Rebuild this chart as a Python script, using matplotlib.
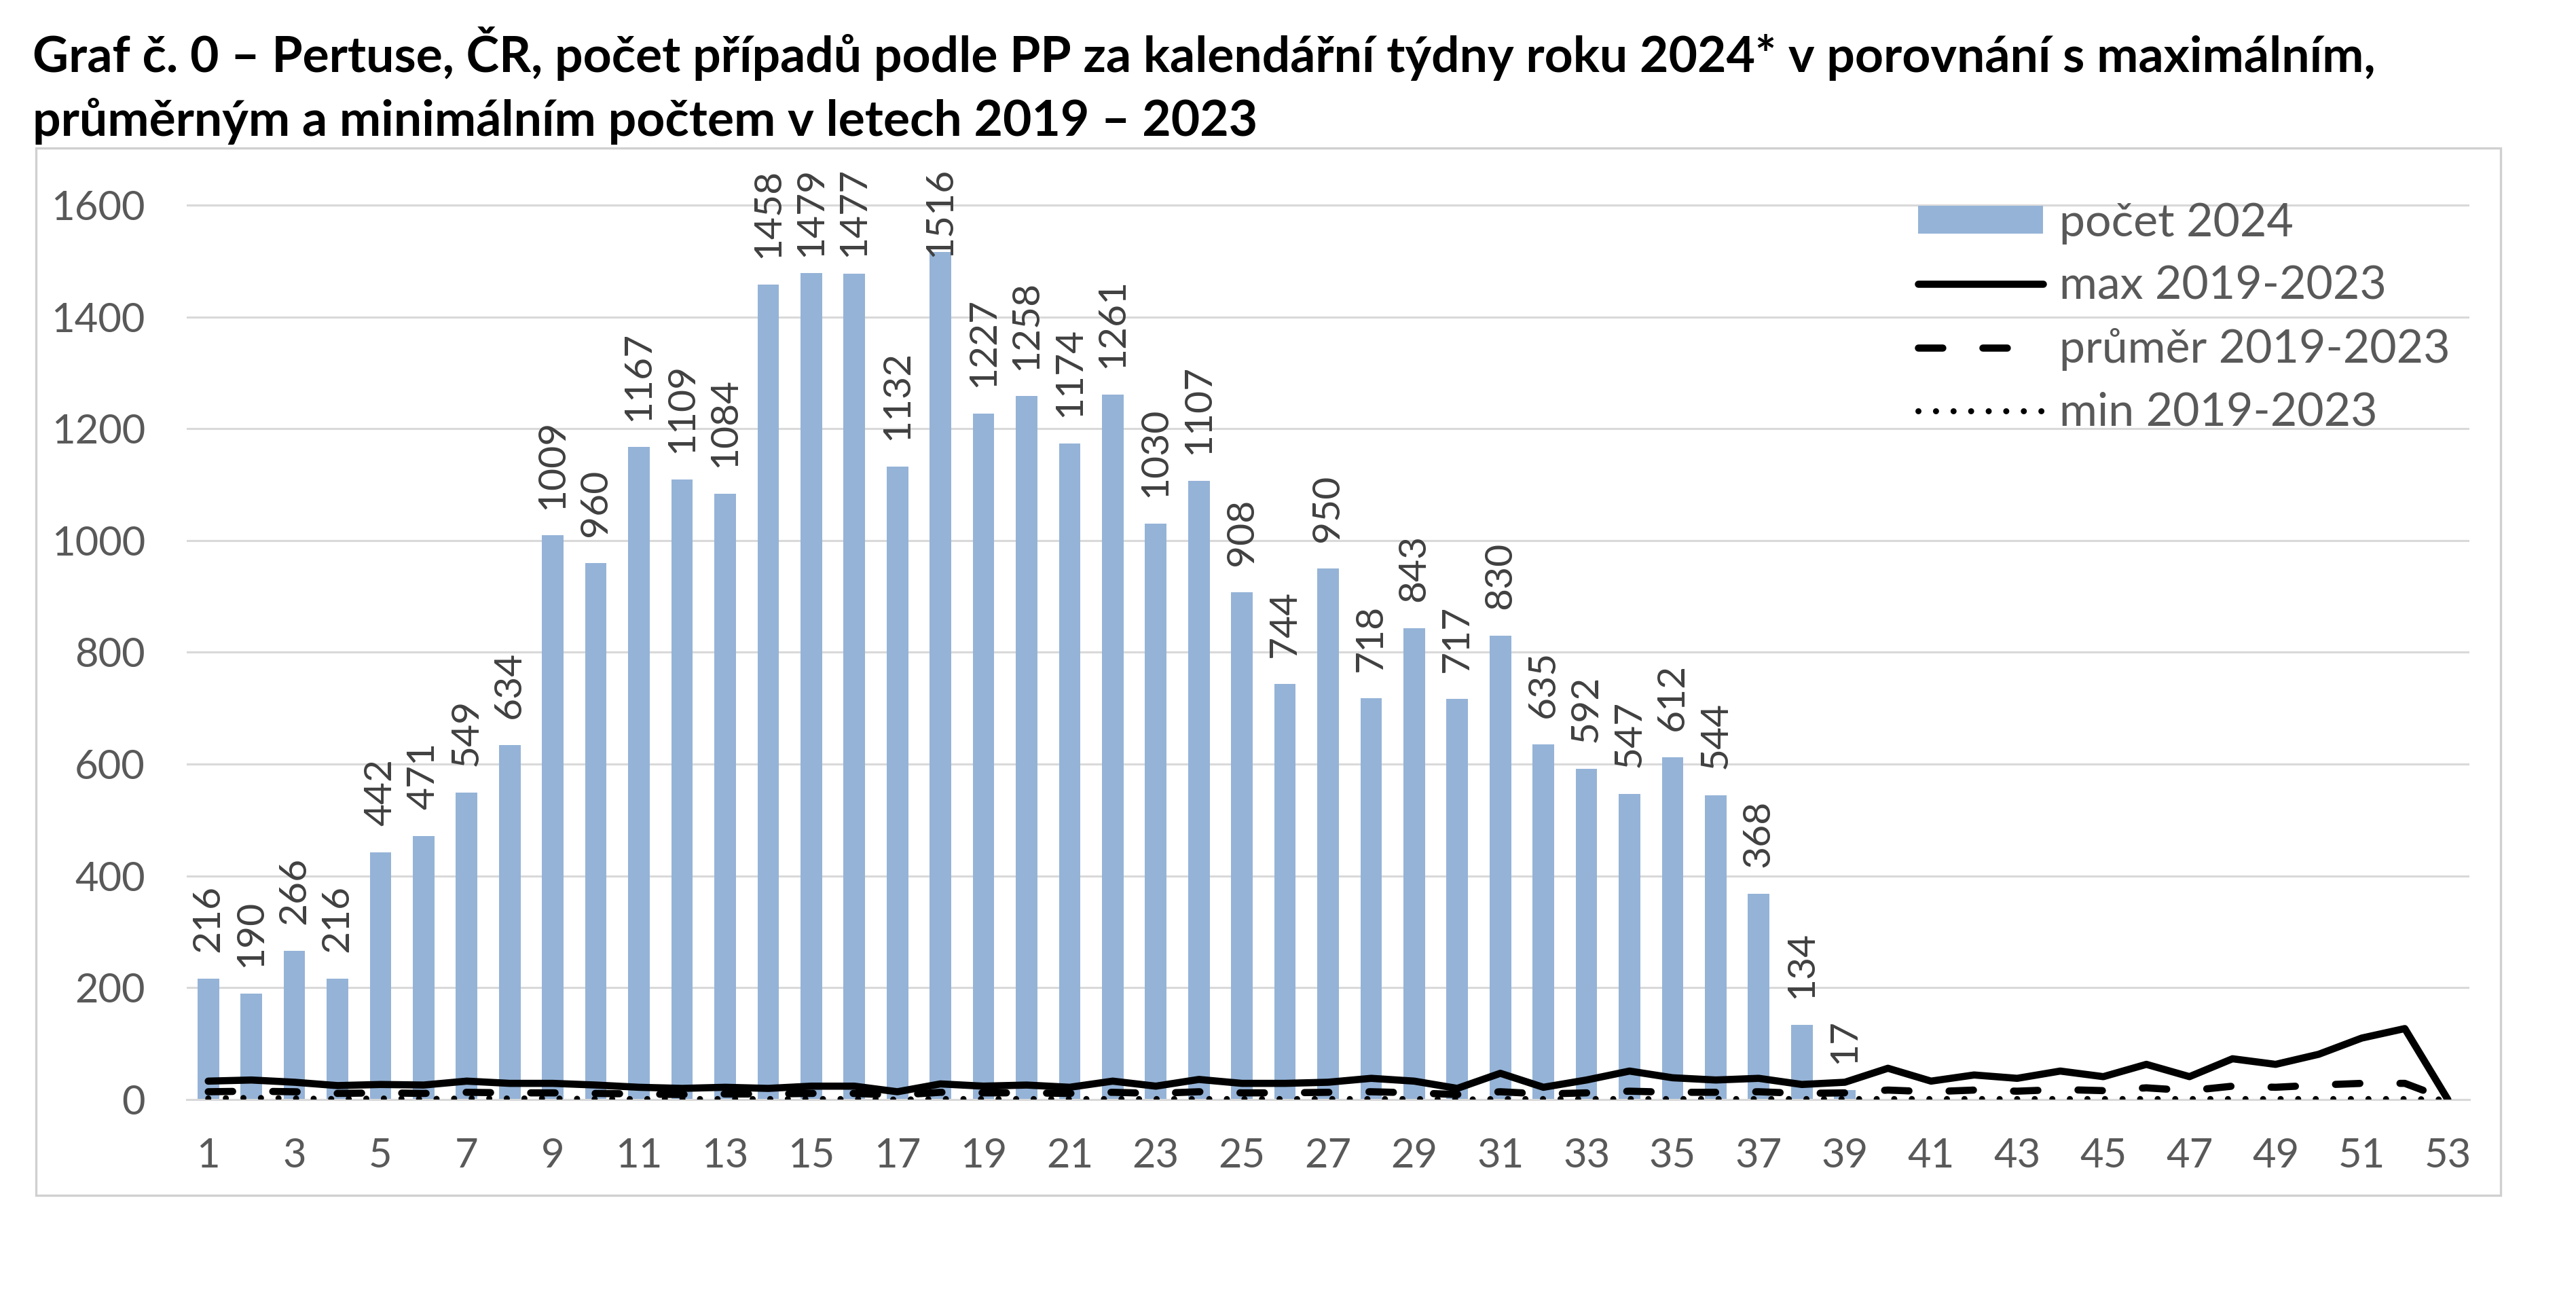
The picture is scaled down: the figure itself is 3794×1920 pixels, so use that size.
import matplotlib
matplotlib.use('Agg')
import matplotlib.pyplot as plt
from matplotlib.patches import Rectangle, Patch
from matplotlib.lines import Line2D

plt.rcParams['font.family'] = ['Lato', 'DejaVu Sans']

# Data
weeks = list(range(1, 54))
bar_weeks = list(range(1, 40))
pocet_2024 = [216, 190, 266, 216, 442, 471, 549, 634, 1009, 960, 1167, 1109, 1084,
              1458, 1479, 1477, 1132, 1516, 1227, 1258, 1174, 1261, 1030, 1107, 908,
              744, 950, 718, 843, 717, 830, 635, 592, 547, 612, 544, 368, 134, 17]
max_2019_2023 = [33, 35, 31, 25, 27, 26, 33, 29, 29, 26, 22, 20, 22,
                 20, 24, 24, 14, 28, 24, 26, 22, 33, 24, 36, 29, 29, 31,
                 38, 33, 20, 47, 22, 35, 51, 39, 35, 38, 27, 31, 56, 33,
                 44, 38, 51, 41, 63, 41, 73, 63, 81, 110, 127, 0]
prumer_2019_2023 = [14, 15, 14, 11, 12, 11, 13, 12, 12, 11, 10, 9, 10,
                    10, 11, 11, 8, 13, 12, 12, 11, 13, 11, 14, 12, 12, 13,
                    14, 12, 9, 14, 10, 12, 15, 13, 13, 14, 11, 12, 17, 14,
                    17, 15, 18, 16, 21, 16, 24, 22, 26, 29, 29, 0]
min_2019_2023 = [2, 3, 2, 1, 2, 1, 2, 2, 2, 1, 1, 1, 1,
                 1, 1, 1, 0, 1, 1, 1, 1, 1, 1, 1, 1, 1, 1,
                 1, 1, 0, 1, 1, 1, 1, 1, 1, 1, 1, 1, 1, 1,
                 1, 1, 1, 1, 1, 1, 1, 1, 1, 1, 1, 0]
yticks = [0, 200, 400, 600, 800, 1000, 1200, 1400, 1600]
xticks = list(range(1, 54, 2))

title_1 = 'Graf č. 0 – Pertuse, ČR, počet případů podle PP za kalendářní týdny roku 2024* v porovnání s maximálním,'
title_2 = 'průměrným a minimálním počtem v letech 2019 – 2023'

bar_color = '#95B3D7'
grid_color = '#D9D9D9'
tick_color = '#595959'

W, H = 3794, 1920
fig = plt.figure(figsize=(W / 200, H / 200), dpi=200)
ax = fig.add_axes([275 / W, 1 - 1619 / H, (3637 - 275) / W, (1619 - 246) / H])

# rámeček grafu
fig.patches.append(Rectangle((53 / W, 1 - 1760 / H), (3683 - 53) / W, (1760 - 218) / H,
                             transform=fig.transFigure, fill=False,
                             edgecolor='#D0D0D0', linewidth=1.2))

ax.bar(bar_weeks, pocet_2024, width=0.5, color=bar_color, zorder=2)
ax.plot(weeks, max_2019_2023, color='black', lw=3.8, solid_capstyle='round',
        solid_joinstyle='round', zorder=4)
ax.plot(weeks, prumer_2019_2023, color='black', lw=3.8, linestyle=(0, (3.4, 5.6)),
        dash_capstyle='round', zorder=4)
ax.plot(weeks, min_2019_2023, color='black', lw=3.2, linestyle=(0, (0.01, 2.9)),
        dash_capstyle='round', zorder=4)

ax.set_xlim(0.5, 53.5)
ax.set_ylim(0, 1668)
ax.set_yticks(yticks)
ax.set_xticks(xticks)
ax.tick_params(axis='both', length=0, labelsize=21.5, colors=tick_color)
ax.tick_params(axis='y', pad=22)
ax.tick_params(axis='x', pad=20)
ax.grid(axis='y', color=grid_color, lw=1.1, zorder=0)
for s in ['top', 'right', 'left']:
    ax.spines[s].set_visible(False)
ax.spines['bottom'].set_color(grid_color)
ax.spines['bottom'].set_linewidth(1.1)

# popisky hodnot
labels = []
for x, v in zip(bar_weeks, pocet_2024):
    a = ax.annotate(str(v), (x, v), xytext=(0, 14), textcoords='offset points',
                    rotation=90, ha='center', va='bottom', fontsize=20.5,
                    color='#404040', zorder=5, annotation_clip=False)
    labels.append(a)

fig.canvas.draw()
renderer = fig.canvas.get_renderer()
ax_top = ax.get_window_extent(renderer).y1
for a in labels:
    bb = a.get_window_extent(renderer)
    if bb.y1 > ax_top:
        a.xy = (a.xy[0], ax.get_ylim()[1])
        a.set_position((0, 0))
        a.set_va('top')

handles = [
    Patch(facecolor=bar_color, edgecolor='none'),
    Line2D([], [], color='black', lw=3.8, solid_capstyle='round'),
    Line2D([], [], color='black', lw=3.8, linestyle=(0, (3.4, 5.6)), dash_capstyle='round'),
    Line2D([], [], color='black', lw=3.2, linestyle=(0, (0.01, 2.9)), dash_capstyle='round'),
]
names = ['počet 2024', 'max 2019-2023', 'průměr 2019-2023', 'min 2019-2023']
leg = fig.legend(handles, names, loc='upper left', bbox_to_anchor=(2825 / W, 1 - 298 / H),
                 frameon=False, fontsize=24.5, labelcolor=tick_color,
                 handlelength=2.7, handleheight=0.55, handletextpad=0.35,
                 labelspacing=0.45, borderpad=0, borderaxespad=0)

fig.text(48 / W, 1 - 106 / H, title_1, fontsize=26.4, fontweight='bold', va='baseline')
fig.text(48 / W, 1 - 200 / H, title_2, fontsize=26.4, fontweight='bold', va='baseline')

fig.savefig('out.png', dpi=200, facecolor='white')
